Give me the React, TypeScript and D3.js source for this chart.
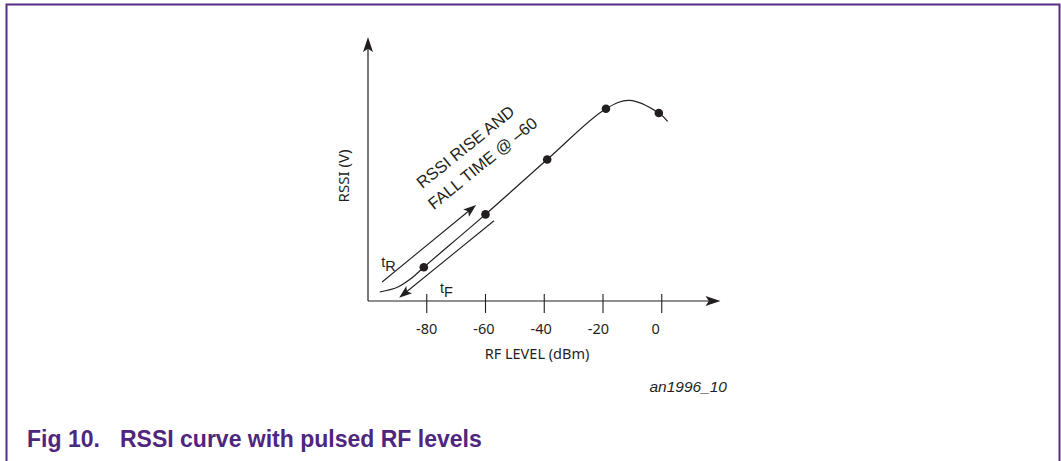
import React, { useEffect } from 'react';
import * as d3 from 'd3';

// RF level (dBm) on x, RSSI (V, unitless sketch) on y
const xTicks = [-80, -60, -40, -20, 0];
const xTickLabels = ['-80', '-60', '-40', '-20', '0'];

const curveX = [-96, -90, -85, -81, -60, -39, -19, -11, -1, 2];
const curveY = [0.085, 0.13, 0.22, 0.32, 0.82, 1.34, 1.82, 1.9, 1.78, 1.7];

const markerX = [-81, -60, -39, -19, -1];
const markerY = [0.32, 0.82, 1.34, 1.82, 1.78];

// rise / fall annotation arrows (from -> to)
const riseArrow = [[-95.2, 0.18], [-63.2, 0.91]];
const fallArrow = [[-57.1, 0.76], [-89.4, 0.03]];

const annotLines = ['RSSI RISE AND', 'FALL TIME @ \u201360'];

const W = 1061;
const H = 461;
const INK = '#231f20';
const PURPLE = '#5a2d8a';

const arrowHead = (tx: number, ty: number, angle: number, len = 13, half = 4.6) => {
  // angle: direction of travel (radians)
  const c = Math.cos(angle), s = Math.sin(angle);
  const bx = tx - c * len, by = ty - s * len;
  const nx = tx - c * len * 0.78, ny = ty - s * len * 0.78;
  const px = -s * half, py = c * half;
  return `M${tx},${ty}L${bx + px},${by + py}L${nx},${ny}L${bx - px},${by - py}Z`;
};

export default function App() {
  useEffect(() => {
    document.body.style.margin = '0';
  }, []);

  const x = d3.scaleLinear().domain([-100, 20]).range([368, 720.5]);
  const y = d3.scaleLinear().domain([0, 2.5]).range([301, 37]);

  const pts = curveX.map((v, i) => [v, curveY[i]] as [number, number]);
  const line = d3.line<[number, number]>()
    .x(d => x(d[0]))
    .y(d => y(d[1]))
    .curve(d3.curveCatmullRom.alpha(0.5));

  const x0 = x(-100), x1 = x(20);
  const y0 = y(0), y1 = y(2.5);

  const arrowPath = (a: number[][]) => {
    const [fx, fy] = [x(a[0][0]), y(a[0][1])];
    const [tx, ty] = [x(a[1][0]), y(a[1][1])];
    const ang = Math.atan2(ty - fy, tx - fx);
    return { body: `M${fx},${fy}L${tx - Math.cos(ang) * 8},${ty - Math.sin(ang) * 8}`, head: arrowHead(tx, ty, ang) };
  };
  const rise = arrowPath(riseArrow);
  const fall = arrowPath(fallArrow);

  const textFont = '"Liberation Sans", Arial, sans-serif';
  const axisFont = '"Noto Sans", "Open Sans", sans-serif';

  return (
    <svg width={W} height={H} style={{ display: 'block', background: '#fff' }}>
      {/* frame */}
      <path d={`M6.5,${H}V4.5H1059.5V${H}`} fill="none" stroke={PURPLE} strokeWidth={2} />

      {/* axes */}
      <line x1={x0} x2={x0} y1={y0} y2={y1 + 10} stroke={INK} strokeWidth={1.2} />
      <path d={arrowHead(x0, y1, -Math.PI / 2, 15, 5)} fill={INK} />
      <line x1={x0} x2={x1 - 10} y1={y0} y2={y0} stroke={INK} strokeWidth={1.2} />
      <path d={arrowHead(x1, y0, 0, 15, 5)} fill={INK} />

      {xTicks.map((t, i) => (
        <g key={t}>
          <line x1={x(t)} x2={x(t)} y1={y0 - 7} y2={y0 + 12} stroke={INK} strokeWidth={1.1} />
          <text x={x(t) - i * 1.5} y={y0 + 33} textAnchor="middle" fontFamily={axisFont} fontSize={14.5} fill={INK}>
            {xTickLabels[i]}
          </text>
        </g>
      ))}
      <text x={537} y={y0 + 58} textAnchor="middle" fontFamily={axisFont} fontSize={14.5} fill={INK}>RF LEVEL (dBm)</text>
      <text transform={`translate(${x0 - 19},${176}) rotate(-90)`} textAnchor="middle" fontFamily={axisFont} fontSize={15} fill={INK}>RSSI (V)</text>

      {/* curve + markers */}
      <path d={line(pts) || ''} fill="none" stroke={INK} strokeWidth={1.2} />
      {markerX.map((v, i) => (
        <circle key={v} cx={x(v)} cy={y(markerY[i])} r={4.3} fill={INK} />
      ))}

      {/* rise / fall arrows */}
      <path d={rise.body} stroke={INK} strokeWidth={1.1} fill="none" />
      <path d={rise.head} fill={INK} />
      <path d={fall.body} stroke={INK} strokeWidth={1.1} fill="none" />
      <path d={fall.head} fill={INK} />

      <text x={x(-95.5)} y={y(0.32)} fontFamily={textFont} fontSize={14.5} fill={INK}>
        t<tspan dy={4}>R</tspan>
      </text>
      <text x={x(-75.5)} y={y(0.08)} fontFamily={textFont} fontSize={14.5} fill={INK}>
        t<tspan dy={4}>F</tspan>
      </text>

      <g transform={`translate(${x(-81.5)},${y(1.06)}) rotate(-39)`}>
        {annotLines.map((s, i) => (
          <text key={s} x={-i * 4.5} y={i * 23.5} fontFamily={textFont} fontSize={16.5} fill={INK}>{s}</text>
        ))}
      </g>

      <text x={727} y={392} textAnchor="end" fontFamily={textFont} fontStyle="italic" fontSize={15.5} fill={INK}>an1996_10</text>

      {/* caption */}
      <text y={447} fontFamily={textFont} fontWeight="bold" fontSize={23} fill="#4e2680">
        <tspan x={27}>Fig 10.</tspan>
        <tspan x={120}>RSSI curve with pulsed RF levels</tspan>
      </text>
    </svg>
  );
}
